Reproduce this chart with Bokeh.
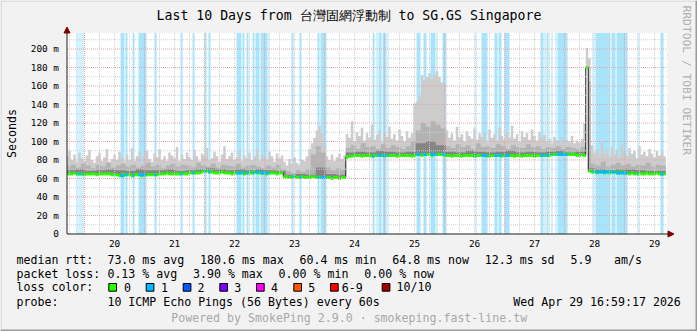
import numpy as np
from bokeh.plotting import figure
from bokeh.models import Range1d, Label, BoxAnnotation, PolyAnnotation
from bokeh.embed import file_html
from bokeh.resources import INLINE

# ---------------- data ----------------
START_DAY = 19.708          # Apr 19 16:59 (x axis in "day of April" units)
END_DAY = START_DAY + 10
N_HOURS = 240               # one value per hour

# median rtt (ms), hourly
median_ms = [
    65, 65, 65, 66, 65, 65, 65, 64, 65, 65, 65, 65, 64, 65, 65, 65, 65, 65, 64, 64, 64, 63, 64, 64,
    64, 64, 63, 64, 64, 64, 63, 64, 64, 64, 64, 64, 64, 65, 65, 65, 66, 65, 65, 65, 65, 65, 66, 65,
    65, 66, 66, 66, 66, 66, 67, 68, 68, 67, 67, 66, 66, 66, 67, 66, 66, 66, 65, 66, 66, 66, 66, 65,
    66, 66, 66, 67, 66, 66, 66, 66, 65, 66, 66, 66, 65, 66, 66,
    62, 62, 61, 62, 62, 61, 61, 62, 61, 61, 61, 62, 62, 61, 61, 61, 61, 61, 61, 60, 61, 61, 60, 61, 61,
    83, 84, 84, 85, 85, 85, 84, 85, 85, 85, 84, 85, 85, 85, 85, 84, 85, 85, 85, 85, 84, 85, 85, 85, 85, 85, 84,
    85, 86, 86, 85, 86, 86, 86, 85, 86, 86, 86, 86, 85,
    85, 85, 84, 85, 85, 85, 84, 85, 85, 85, 85, 84, 85, 85, 85, 85, 84, 84, 85, 85,
    85, 85, 84, 85, 85, 85, 85, 84, 85, 85, 84, 85, 85, 85, 85, 84, 85, 85, 85, 85,
    85, 85, 86, 86, 86, 86, 86, 87, 86, 86, 86, 86, 85, 85, 86,
    85, 180, 68,
    67, 67, 66, 67, 67, 66, 67, 66, 67, 67, 66, 67, 67, 66, 66, 65, 66, 65, 65, 66, 65, 65, 66, 65,
    65, 65, 66, 65, 65, 65,
]

# outer (light) smoke top, hourly
smoke_light_top = [
    84, 90, 80, 86, 78, 88, 82, 79, 85, 91, 80, 77, 84, 88, 79, 83, 92, 78, 81, 86, 80, 89, 83, 78,
    86, 80, 93, 79, 84, 88, 77, 85, 90, 81, 78, 87, 83, 92, 80, 84, 79, 88, 85, 82, 94, 79, 86, 81,
    88, 83, 80, 91, 84, 79, 87, 85, 93, 80, 82, 89, 84, 78, 86, 95, 81, 84, 88, 80, 83, 90, 79, 85,
    82, 88, 80, 84, 91, 79, 86, 83, 80, 89, 84, 78, 87, 82, 85,
    78, 74, 81, 76, 83, 77, 75, 80, 79, 84, 92, 98, 104, 112, 117, 109, 95, 84, 80, 86, 79, 83, 87, 81, 85,
    108, 104, 122, 100, 110, 106, 115, 101, 109, 104, 118, 102, 107, 112, 99, 110, 105, 116, 103, 108,
    101, 113, 106, 100, 111, 104, 109,
    141, 143, 150, 172, 166, 170, 174, 168, 172, 176, 170, 164, 162,
    112, 104, 109, 101, 116, 105, 108, 100, 111, 106, 103, 114, 102, 109, 105, 110, 99, 113, 104, 108,
    101, 115, 106, 102, 110, 104, 117, 103, 108, 100, 111, 105, 109, 102, 113, 106, 101, 110, 104, 107,
    100, 103, 98, 105, 101, 99, 104, 97, 102, 100, 106, 98, 101, 99, 103,
    120, 201, 190,
    96, 88, 92, 85, 99, 87, 90, 84, 94, 86, 91, 83, 97, 88, 85, 93, 87, 90, 82, 95, 86, 89, 84, 92,
    87, 83, 90, 85, 88, 84,
]

# middle smoke top, every 2 hours
smoke_mid_top_2h = [
    73, 75, 72, 76, 74, 71, 75, 73, 77, 72, 74, 76, 73, 75, 72, 74, 77, 73, 75, 71, 74, 76, 73, 75,
    74, 72, 77, 74, 73, 76, 72, 75, 74, 73, 76, 72, 74, 75, 73, 71, 74, 72, 75,
    70, 68, 66, 69, 67, 70, 86, 95, 88, 72, 69, 71, 70,
    93, 96, 92, 98, 94, 95, 92, 97, 93, 96, 94, 92, 95,
    100, 112, 120, 116, 122, 118, 114,
    95, 93, 97, 94, 96, 92, 98, 94, 95, 93, 97, 95, 92, 96, 94, 93, 97, 94, 95, 92, 94, 93, 95, 92,
    94, 93, 92, 94,
    165,
    76, 74, 78, 73, 75, 77, 74, 76, 73, 75, 74, 77, 73, 75, 74,
]

# inner (dark) smoke top, every 4 hours
smoke_dark_top_4h = [
    69, 70, 68, 69, 70, 69, 68, 70, 69, 69, 70, 68, 69, 70, 71, 70, 69, 70, 69, 70, 69, 68,
    64, 65, 64, 72, 65, 64,
    88, 89, 88, 90, 89, 88, 89,
    98, 100, 96,
    89, 88, 90, 89, 88, 89, 90, 88, 89, 88, 89, 90, 88, 89,
    71,
    70, 69, 70, 70, 69, 68, 68,
]

# periods with packet loss (1/10): start / end, in days
loss_start = [19.866, 19.900, 19.933, 19.966, 20.600, 20.683, 20.800, 20.900, 21.166, 21.600,
              21.800, 22.000, 22.066, 22.533, 22.633, 22.700, 22.800, 22.850, 22.933, 23.066,
              23.450, 23.583, 23.883, 23.933, 24.800, 24.866, 24.900, 24.966, 25.050, 25.533,
              25.650, 25.766, 25.866, 25.966, 26.516, 26.616, 26.833, 26.900, 27.000, 27.600,
              27.666, 27.700, 27.783, 27.850, 27.883, 28.466, 28.516, 28.783, 28.866, 29.216, 29.600]
loss_end = [19.883, 19.916, 19.950, 19.983, 20.666, 20.716, 20.833, 21.033, 21.200, 21.633,
            21.833, 22.033, 22.100, 22.616, 22.666, 22.733, 22.833, 22.916, 23.050, 23.083,
            23.483, 23.616, 23.916, 24.033, 24.833, 24.883, 24.950, 25.033, 25.066, 25.600,
            25.700, 25.850, 25.883, 26.033, 26.533, 26.716, 26.883, 26.950, 27.083, 27.650,
            27.683, 27.733, 27.800, 27.866, 28.050, 28.483, 28.766, 28.850, 29.050, 29.233, 29.650]

day_numbers = [20, 21, 22, 23, 24, 25, 26, 27, 28, 29]
day_labels = ["20", "21", "22", "23", "24", "25", "26", "27", "28", "29"]
y_ticks = [20, 40, 60, 80, 100, 120, 140, 160, 180, 200]
y_tick_labels = ["20 m", "40 m", "60 m", "80 m", "100 m", "120 m", "140 m", "160 m", "180 m", "200 m"]
y_minor = [10, 30, 50, 70, 90, 110, 130, 150, 170, 190, 210]

loss_names = ["0", "1", "2", "3", "4", "5", "6-9", "10/10"]
loss_colors = ["#26ff00", "#00b8ff", "#0059ff", "#7e00ff", "#ff00ff", "#ff5500", "#ff0000", "#a10000"]

title_text = "Last 10 Days from 台灣固網浮動制 to SG.GS Singapore"
legend_rows = [
    ("median rtt:", [("73.0 ms avg", 106.9), ("180.6 ms max", 199.5), ("60.4 ms min", 299.1),
                     ("64.8 ms now", 391.7), ("12.3 ms sd", 484.3), ("5.9", 570.0), ("am/s", 613.6)]),
    ("packet loss:", [("0.13 % avg", 106.9), ("3.90 % max", 192.5), ("0.00 % min", 278.1),
                      ("0.00 % now", 363.8)]),
]
probe_text = "10 ICMP Echo Pings (56 Bytes) every 60s"
stamp_text = "Wed Apr 29 16:59:17 2026"
footer_text = "Powered by SmokePing 2.9.0 · smokeping.fast-line.tw"

# ---------------- layout (pixels of the 697x331 canvas) ----------------
W, H = 697, 331
AX_LEFT, AX_RIGHT = 66.5, 666.5        # plot area, x
AX_BOTTOM, AX_TOP = 233.5, 32.5        # plot area, y
Y_TOP = 217.3                          # ms at top of plot area
ppd = (AX_RIGHT - AX_LEFT) / 10.0
ppm = (AX_BOTTOM - AX_TOP) / Y_TOP
TXT_SHIFT = 4.0                        # compensation of label baseline placement

p = figure(width=W, height=H, output_backend="svg", toolbar_location=None,
           x_axis_type=None, y_axis_type=None, min_border=0,
           x_range=Range1d(START_DAY - AX_LEFT / ppd, START_DAY + (W - AX_LEFT) / ppd),
           y_range=Range1d(-(H - AX_BOTTOM) / ppm, AX_BOTTOM / ppm),
           background_fill_color="#f2f2f2", border_fill_color="#f2f2f2")
p.outline_line_color = None

# plot canvas
p.quad(left=START_DAY, right=END_DAY, bottom=0, top=Y_TOP, fill_color="#ffffff", line_color=None)

med = np.asarray(median_ms, float)
edges = START_DAY + (np.arange(N_HOURS + 1) - 0.5) / 24.0
edges[0] = START_DAY
xs = np.column_stack([edges[:-1], edges[1:]]).ravel()


def stepy(v):
    return np.repeat(np.asarray(v, float), 2)


light = np.maximum(np.asarray(smoke_light_top, float), med)
mid = np.maximum(np.repeat(np.asarray(smoke_mid_top_2h, float), 2), med)
dark = np.maximum(np.repeat(np.asarray(smoke_dark_top_4h, float), 4), med)

# loss background bars
p.quad(left=loss_start, right=loss_end, bottom=0, top=Y_TOP, fill_color="#a8e4fb", line_color=None)

# smoke
p.varea(x=xs, y1=stepy(med), y2=stepy(light), fill_color="#cccccc")
p.varea(x=xs, y1=stepy(med), y2=stepy(mid), fill_color="#b3b3b3")
p.varea(x=xs, y1=stepy(med), y2=stepy(dark), fill_color="#858585")

# median, coloured by loss
p.line(x=xs, y=stepy(med), line_color="#1f1f1f", line_width=1)
p.segment(x0=edges[:-1], x1=edges[1:], y0=med, y1=med, line_color=loss_colors[0], line_width=3)
ls = np.asarray(loss_start)
le = np.asarray(loss_end)
idx = np.clip(np.round((ls - START_DAY) * 24).astype(int), 0, N_HOURS - 1)
p.segment(x0=ls, x1=le, y0=med[idx], y1=med[idx], line_color=loss_colors[1], line_width=3)

# grid (drawn over the data, like rrdtool)
six_h = [d + k * 0.25 for d in range(19, 30) for k in (1, 2, 3) if START_DAY < d + k * 0.25 < END_DAY]
p.segment(x0=six_h, x1=six_h, y0=0, y1=Y_TOP, line_color="#cfcfcf", line_dash="1 1", line_width=1)
p.segment(x0=START_DAY, x1=END_DAY, y0=y_minor, y1=y_minor, line_color="#cfcfcf", line_dash="1 1", line_width=1)
p.segment(x0=day_numbers, x1=day_numbers, y0=0, y1=Y_TOP, line_color="#e2a6a6", line_dash="1 1", line_width=1)
p.segment(x0=START_DAY, x1=END_DAY, y0=y_ticks, y1=y_ticks, line_color="#e2a6a6", line_dash="1 1", line_width=1)

# axis lines and arrows
p.segment(x0=[START_DAY, START_DAY], x1=[START_DAY, END_DAY + 1.5 / ppd],
          y0=[0, 0], y1=[Y_TOP, 0], line_color="#1f1f1f", line_width=1)
p.add_layout(PolyAnnotation(xs=[63.5, 69.5, 66.5], ys=[32.5, 32.5, 26.5], xs_units="canvas", ys_units="canvas",
                            fill_color="#7f0000", fill_alpha=1, line_color="#7f0000", line_alpha=1))
p.add_layout(PolyAnnotation(xs=[667.5, 667.5, 673.5], ys=[230.5, 236.5, 233.5], xs_units="canvas",
                            ys_units="canvas", fill_color="#7f0000", fill_alpha=1, line_color="#7f0000",
                            line_alpha=1))

# canvas shading
for l, r, t, b, c in [(0, W, 0, 1, "#cbcbcb"), (0, 1, 0, H, "#cbcbcb"),
                      (0, W, H - 2, H, "#999999"), (W - 2, W, 0, H, "#999999")]:
    p.add_layout(BoxAnnotation(left=l, right=r, top=t, bottom=b, left_units="canvas", right_units="canvas",
                               top_units="canvas", bottom_units="canvas", fill_color=c, fill_alpha=1,
                               line_color=None))

MONO = "DejaVu Sans Mono"


def txt(s, x, y, size="11.6px", color="#000000", align="left", angle=0.0, xu="canvas", yu="canvas", yoff=0.0):
    p.add_layout(Label(x=x, y=y, x_units=xu, y_units=yu, text=s, text_font=MONO,
                       text_font_size=size, text_color=color, text_align=align,
                       text_baseline="alphabetic", angle=angle, y_offset=yoff))


# axis tick labels
for v, s in zip([0] + y_ticks, ["0"] + y_tick_labels):
    txt(s, 58.5, v, size="9.4px", align="right", yu="data", yoff=TXT_SHIFT - 3.5)
for d, s in zip(day_numbers, day_labels):
    txt(s, d + 0.5, 246.7 - TXT_SHIFT, size="9.4px", align="center", xu="data")

txt(title_text, 348.5, 19 - TXT_SHIFT, size="13.2px", align="center")
txt("Seconds", 15.5 - TXT_SHIFT, 133, align="center", angle=np.pi / 2)
txt("RRDTOOL / TOBI OETIKER", 681.5 + TXT_SHIFT, 5, size="11.3px", color="#b0b0b0", angle=-np.pi / 2)

# legend
for row, (head, items) in enumerate(legend_rows):
    yb = 263.3 + 14 * row - TXT_SHIFT
    txt(head, 16, yb)
    for s, x in items:
        txt(s, x, yb)
txt("loss color:", 16, 290.8 - TXT_SHIFT)
box_x = [108.3, 145.7, 182.7, 219.3, 256.0, 293.3, 330.0, 381.7]
lab_x = [123.4, 160.4, 197.1, 233.7, 270.4, 307.7, 341.2, 396.0]
for name, col, bx, lx in zip(loss_names, loss_colors, box_x, lab_x):
    p.add_layout(BoxAnnotation(left=bx, right=bx + 7.7, top=283, bottom=290.7, left_units="canvas",
                               right_units="canvas", top_units="canvas", bottom_units="canvas",
                               fill_color=col, fill_alpha=1, line_color="#000000", line_width=1, line_alpha=1))
    txt(name, lx, 290.8 - TXT_SHIFT)
txt("probe:", 16, 305 - TXT_SHIFT)
txt(probe_text, 106.9, 305 - TXT_SHIFT)
txt(stamp_text, 512.8, 305 - TXT_SHIFT)
txt(footer_text, 348.7, 321.3 - TXT_SHIFT, color="#a8a8a8", align="center")

open("out.html", "w").write(file_html(p, INLINE))
